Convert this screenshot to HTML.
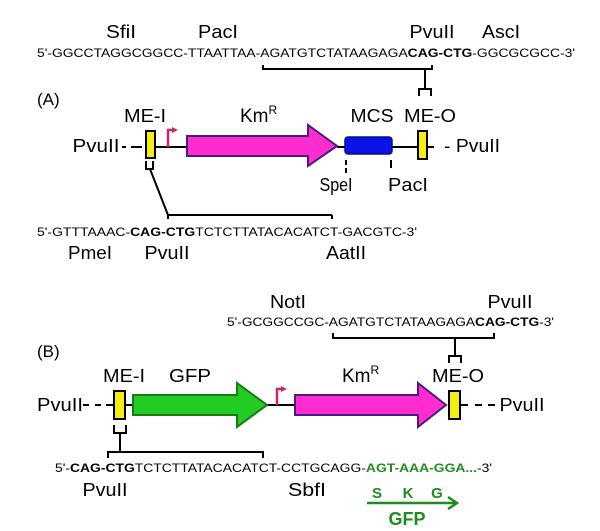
<!DOCTYPE html>
<html><head><meta charset="utf-8"><style>body{margin:0;background:#fff}svg{display:block}</style></head><body>
<svg width="600" height="531" viewBox="0 0 600 531" xmlns="http://www.w3.org/2000/svg" font-family="Liberation Sans, Arial, sans-serif">
<defs>
<marker id="ph" markerWidth="6" markerHeight="6" refX="3" refY="3" orient="auto" markerUnits="userSpaceOnUse"><path d="M0,0 L6,3 L0,6 Z" fill="#d0246a"/></marker>
</defs>
<g font-size="18" fill="#000" text-anchor="middle">
<text x="121" y="38" textLength="30" lengthAdjust="spacingAndGlyphs">SfiI</text>
<text x="218" y="38" textLength="40" lengthAdjust="spacingAndGlyphs">PacI</text>
<text x="432" y="38" textLength="45" lengthAdjust="spacingAndGlyphs">PvuII</text>
<text x="501" y="38" textLength="38" lengthAdjust="spacingAndGlyphs">AscI</text>
</g>
<text x="37" y="57" font-size="12" textLength="538" lengthAdjust="spacingAndGlyphs">5'-GGCCTAGGCGGCC-TTAATTAA-AGATGTCTATAAGAGA<tspan font-weight="bold">CAG-CTG</tspan>-GGCGCGCC-3'</text>
<g stroke="#000" stroke-width="2" fill="none">
<path d="M263,65 V69 H432 V65"/>
<path d="M425,69 V89"/>
<path d="M419,96 V89 H431 V96"/>
</g>
<text x="37" y="105" font-size="17">(A)</text>
<g font-size="18" text-anchor="middle">
<text x="145" y="122" textLength="42" lengthAdjust="spacingAndGlyphs">ME-I</text>
<text x="372" y="122" textLength="43" lengthAdjust="spacingAndGlyphs">MCS</text>
<text x="430" y="122" textLength="52" lengthAdjust="spacingAndGlyphs">ME-O</text>
<text x="96" y="152" textLength="47" lengthAdjust="spacingAndGlyphs">PvuII</text>
<text x="472" y="152" textLength="56" lengthAdjust="spacingAndGlyphs">- PvuII</text>
<text x="336" y="191" textLength="33" lengthAdjust="spacingAndGlyphs">SpeI</text>
<text x="408" y="191" textLength="40" lengthAdjust="spacingAndGlyphs">PacI</text>
</g>
<text x="240" y="122" font-size="19">Km<tspan font-size="12" dy="-8">R</tspan></text>
<g stroke="#000" stroke-width="2" fill="none">
<path d="M122,147 H126 M131,147 H142"/>
<path d="M155,147 H188"/>
<path d="M337,147 H417"/>
<path d="M428,147 H434"/>
<path d="M346,160 V176" stroke-dasharray="5,3"/>
<path d="M391,160 V168"/>
<path d="M146,161 V169 H153 V161"/>
<path d="M150,169 L168,215 H332"/>
<path d="M168,215 V219 M332,215 V219"/>
</g>
<path d="M168,147 V130 H175" stroke="#d0246a" stroke-width="2.5" fill="none" marker-end="url(#ph)"/>
<path d="M187,136 H308 V125 L337,146 L308,166 V156 H187 Z" fill="#ff2ccf" stroke="#4a1a80" stroke-width="2"/>
<rect x="345" y="137" width="47" height="17" rx="3" fill="#0a14e6" stroke="#08107a" stroke-width="1.5"/>
<rect x="146" y="131" width="9" height="27" fill="#f5ee10" stroke="#000" stroke-width="2"/>
<rect x="418" y="131" width="9" height="28" fill="#f5ee10" stroke="#000" stroke-width="2"/>
<text x="37" y="236" font-size="12" textLength="380" lengthAdjust="spacingAndGlyphs">5'-GTTTAAAC-<tspan font-weight="bold">CAG-CTG</tspan>TCTCTTATACACATCT-GACGTC-3'</text>
<g font-size="18" text-anchor="middle">
<text x="90" y="259" textLength="44" lengthAdjust="spacingAndGlyphs">PmeI</text>
<text x="167" y="259" textLength="45" lengthAdjust="spacingAndGlyphs">PvuII</text>
<text x="346" y="259" textLength="40" lengthAdjust="spacingAndGlyphs">AatII</text>
</g>
<g font-size="18" text-anchor="middle">
<text x="288" y="308" textLength="36" lengthAdjust="spacingAndGlyphs">NotI</text>
<text x="510" y="308" textLength="45" lengthAdjust="spacingAndGlyphs">PvuII</text>
</g>
<text x="227" y="326" font-size="12" textLength="327" lengthAdjust="spacingAndGlyphs">5'-GCGGCCGC-AGATGTCTATAAGAGA<tspan font-weight="bold">CAG-CTG</tspan>-3'</text>
<g stroke="#000" stroke-width="2" fill="none">
<path d="M333,333 V338 H494 V333"/>
<path d="M455,338 V356"/>
<path d="M449,363 V356 H461 V363"/>
</g>
<text x="37" y="357" font-size="17">(B)</text>
<g font-size="18" text-anchor="middle">
<text x="124" y="382" textLength="42" lengthAdjust="spacingAndGlyphs">ME-I</text>
<text x="190" y="382" textLength="42" lengthAdjust="spacingAndGlyphs">GFP</text>
<text x="458" y="382" textLength="52" lengthAdjust="spacingAndGlyphs">ME-O</text>
<text x="60" y="411" textLength="46" lengthAdjust="spacingAndGlyphs">PvuII</text>
<text x="522" y="411" textLength="45" lengthAdjust="spacingAndGlyphs">PvuII</text>
</g>
<text x="342" y="382" font-size="19">Km<tspan font-size="12" dy="-8">R</tspan></text>
<g stroke="#000" stroke-width="2" fill="none">
<path d="M83,405 H89 M95,405 H101 M106,405 H113"/>
<path d="M126,405 H134"/>
<path d="M266,405 H296"/>
<path d="M461,405 H468 M475,405 H482 M488,405 H495"/>
<path d="M114,425 V433 H126 V425"/>
<path d="M120,433 V452"/>
<path d="M108,458 V452 H263 V458"/>
</g>
<path d="M133,395 H237 V383 L267,405 L237,427 V415 H133 Z" fill="#22cc22" stroke="#1a7a1a" stroke-width="2"/>
<path d="M277,405 V389 H284" stroke="#d0246a" stroke-width="2.5" fill="none" marker-end="url(#ph)"/>
<path d="M295,395 H418 V383 L446,405 L418,427 V415 H295 Z" fill="#ff2ccf" stroke="#4a1a80" stroke-width="2"/>
<rect x="114" y="391" width="11" height="28" fill="#f5ee10" stroke="#000" stroke-width="2"/>
<rect x="449" y="391" width="11" height="28" fill="#f5ee10" stroke="#000" stroke-width="2"/>
<text x="55" y="472" font-size="12" textLength="437" lengthAdjust="spacingAndGlyphs">5'-<tspan font-weight="bold">CAG-CTG</tspan>TCTCTTATACACATCT-CCTGCAGG-<tspan font-weight="bold" fill="#1e8c1e">AGT-AAA-GGA...</tspan>-3'</text>
<g font-size="18" text-anchor="middle">
<text x="105" y="496" textLength="45" lengthAdjust="spacingAndGlyphs">PvuII</text>
<text x="307" y="496" textLength="38" lengthAdjust="spacingAndGlyphs">SbfI</text>
</g>
<g fill="#1e8c1e" font-weight="bold" text-anchor="middle">
<text x="377" y="498" font-size="15">S</text>
<text x="408" y="498" font-size="15">K</text>
<text x="437" y="498" font-size="15">G</text>
<text x="407" y="525" font-size="18">GFP</text>
</g>
<path d="M367,503 H455 M448,497 L457,503 L448,509" stroke="#1e8c1e" stroke-width="2.5" fill="none"/>
</svg>
</body></html>
